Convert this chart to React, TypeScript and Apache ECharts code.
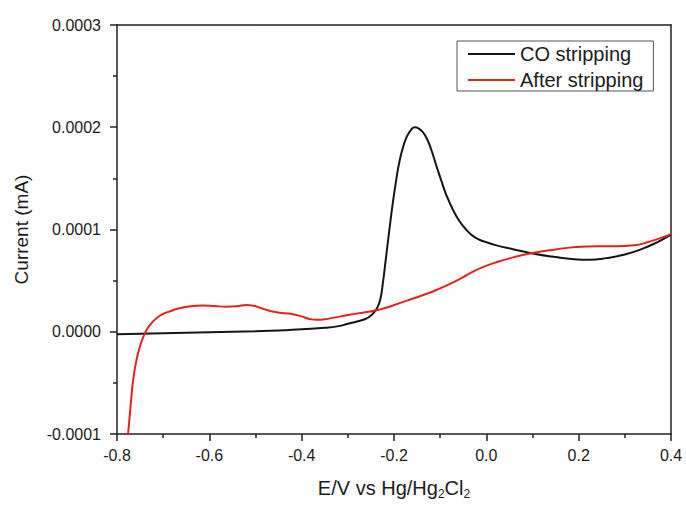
import React, { useEffect, useRef } from "react";
import * as echarts from "echarts";

// Potential (V vs Hg/Hg2Cl2) and current (units of 1e-5 mA)
const coPotential = [
  -0.8, -0.75, -0.7, -0.6, -0.5, -0.45, -0.4, -0.35, -0.32, -0.3, -0.28, -0.265, -0.255, -0.245,
  -0.237, -0.23, -0.224, -0.218, -0.21, -0.202, -0.195, -0.188, -0.18, -0.172, -0.163, -0.155,
  -0.147, -0.138, -0.13, -0.12, -0.108, -0.097, -0.086, -0.072, -0.058, -0.044, -0.03, -0.015,
  0.0, 0.022, 0.06, 0.1, 0.15, 0.19, 0.223, 0.26, 0.3, 0.34, 0.37, 0.4,
];
const coCurrent = [
  -0.25, -0.2, -0.15, -0.05, 0.05, 0.12, 0.25, 0.38, 0.55, 0.78, 1.0, 1.2, 1.42, 1.8,
  2.3, 3.1, 4.8, 7.0, 10.0, 12.8, 14.9, 16.7, 18.1, 19.1, 19.75, 20.0,
  19.9, 19.55, 19.0, 17.9, 16.2, 14.7, 13.3, 11.9, 10.8, 10.0, 9.4, 9.0,
  8.75, 8.45, 8.05, 7.65, 7.3, 7.1, 7.05, 7.2, 7.55, 8.15, 8.75, 9.5,
];

const afterPotential = [
  -0.778, -0.774, -0.77, -0.765, -0.758, -0.75, -0.742, -0.735, -0.725, -0.714, -0.7, -0.685,
  -0.665, -0.64, -0.615, -0.59, -0.565, -0.54, -0.52, -0.505, -0.49, -0.47, -0.454, -0.435,
  -0.419, -0.4, -0.385, -0.368, -0.35, -0.33, -0.296, -0.265, -0.238, -0.21, -0.188, -0.155,
  -0.123, -0.1, -0.08, -0.052, -0.03, -0.009, 0.022, 0.06, 0.1, 0.15, 0.195, 0.24, 0.281,
  0.32, 0.352, 0.38, 0.4,
];
const afterCurrent = [
  -11, -9, -7, -4.7, -2.8, -1.4, -0.4, 0.25, 0.85, 1.35, 1.75, 2.0,
  2.3, 2.5, 2.56, 2.52, 2.45, 2.5, 2.62, 2.55, 2.35, 2.05, 1.9, 1.8,
  1.72, 1.5, 1.28, 1.17, 1.22, 1.38, 1.66, 1.88, 2.1, 2.45, 2.8, 3.3,
  3.81, 4.25, 4.65, 5.3, 5.85, 6.3, 6.8, 7.3, 7.7, 8.05, 8.3, 8.37, 8.35,
  8.45, 8.8, 9.2, 9.58,
];
const CURRENT_UNIT = 1e-5;

const seriesNames = ["CO stripping", "After stripping"];

const FONT = "'Liberation Sans', Arial, sans-serif";
const AXIS_COLOR = "#222";
const TEXT_COLOR = "#1c1c1c";

function pairs(xs: number[], ys: number[]) {
  return xs.map((x, i) => [x, ys[i] * CURRENT_UNIT]);
}

export default function App() {
  const ref = useRef<HTMLDivElement>(null);
  useEffect(() => {
    if (!ref.current) return;
    const chart = echarts.init(ref.current, undefined, { renderer: "svg" });
    chart.setOption({
      animation: false,
      backgroundColor: "#fff",
      textStyle: { fontFamily: FONT },
      grid: { left: 117, right: 15, top: 25, bottom: 72 },
      legend: {
        data: seriesNames,
        orient: "vertical",
        left: 457,
        top: 41,
        icon: "rect",
        itemWidth: 47,
        itemHeight: 2,
        itemGap: 6,
        padding: [3, 10, 1, 11],
        borderColor: "#555",
        borderWidth: 1,
        backgroundColor: "#fff",
        textStyle: { fontSize: 20, color: TEXT_COLOR, fontFamily: FONT },
      },
      xAxis: [
        {
          type: "value",
          min: -0.8,
          max: 0.4,
          interval: 0.2,
          name: "{m|E/V vs Hg/Hg}{s|2}{m|Cl}{s|2}",
          nameLocation: "middle",
          nameGap: 44,
          nameTextStyle: {
            fontFamily: FONT,
            color: TEXT_COLOR,
            rich: {
              m: { fontSize: 20, fontFamily: FONT, color: TEXT_COLOR, verticalAlign: "top" },
              s: {
                fontSize: 12,
                fontFamily: FONT,
                color: TEXT_COLOR,
                verticalAlign: "top",
                padding: [10, 0, 0, 0],
              },
            },
          },
          axisLine: { show: true, onZero: false, lineStyle: { color: AXIS_COLOR, width: 1.5 } },
          axisTick: { show: true, length: 7, lineStyle: { color: AXIS_COLOR, width: 1.5 } },
          minorTick: { show: true, splitNumber: 2, length: 4, lineStyle: { color: AXIS_COLOR, width: 1.5 } },
          splitLine: { show: false },
          axisLabel: {
            fontSize: 16,
            color: TEXT_COLOR,
            fontFamily: FONT,
            margin: 13,
            formatter: (v: number) => (Math.abs(v) < 1e-9 ? "0.0" : v.toFixed(1)),
          },
        },
        {
          type: "value",
          position: "top",
          min: -0.8,
          max: 0.4,
          axisLine: { show: true, onZero: false, lineStyle: { color: AXIS_COLOR, width: 1.5 } },
          axisTick: { show: false },
          axisLabel: { show: false },
          splitLine: { show: false },
        },
      ],
      yAxis: [
        {
          type: "value",
          min: -0.0001,
          max: 0.0003,
          interval: 0.0001,
          name: "Current (mA)",
          nameLocation: "middle",
          nameGap: 86,
          nameTextStyle: { fontSize: 19, color: TEXT_COLOR, fontFamily: FONT },
          axisLine: { show: true, onZero: false, lineStyle: { color: AXIS_COLOR, width: 1.5 } },
          axisTick: { show: true, length: 7, lineStyle: { color: AXIS_COLOR, width: 1.5 } },
          minorTick: { show: true, splitNumber: 2, length: 4, lineStyle: { color: AXIS_COLOR, width: 1.5 } },
          splitLine: { show: false },
          axisLabel: {
            fontSize: 16,
            color: TEXT_COLOR,
            fontFamily: FONT,
            margin: 16,
            formatter: (v: number) => (Math.abs(v) < 1e-12 ? "0.0000" : v.toFixed(4)),
          },
        },
        {
          type: "value",
          position: "right",
          min: -0.0001,
          max: 0.0003,
          axisLine: { show: true, onZero: false, lineStyle: { color: AXIS_COLOR, width: 1.5 } },
          axisTick: { show: false },
          axisLabel: { show: false },
          splitLine: { show: false },
        },
      ],
      series: [
        {
          name: seriesNames[0],
          type: "line",
          xAxisIndex: 0,
          yAxisIndex: 0,
          data: pairs(coPotential, coCurrent),
          symbol: "none",
          smooth: 0.5,
          lineStyle: { color: "#151515", width: 2 },
          itemStyle: { color: "#151515" },
          clip: true,
        },
        {
          name: seriesNames[1],
          type: "line",
          xAxisIndex: 0,
          yAxisIndex: 0,
          data: pairs(afterPotential, afterCurrent),
          symbol: "none",
          smooth: 0.5,
          lineStyle: { color: "#e3231f", width: 2 },
          itemStyle: { color: "#e3231f" },
          clip: true,
        },
      ],
    });
    return () => chart.dispose();
  }, []);
  return (
    <div
      ref={ref}
      style={{ position: "absolute", left: 0, top: 0, width: 686, height: 506, background: "#fff" }}
    />
  );
}
